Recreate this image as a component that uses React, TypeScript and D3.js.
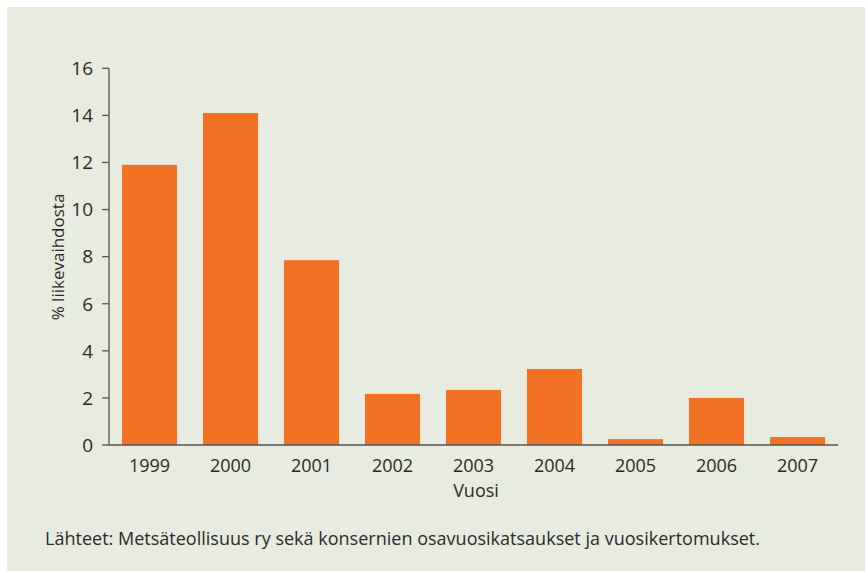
import React from "react";
import * as d3 from "d3";

const years = ["1999", "2000", "2001", "2002", "2003", "2004", "2005", "2006", "2007"];
const values = [11.9, 14.1, 7.85, 2.17, 2.34, 3.23, 0.25, 2.0, 0.34];
const yTicks = [0, 2, 4, 6, 8, 10, 12, 14, 16];
const yLabel = "% liikevaihdosta";
const xLabel = "Vuosi";
const sourceText = "Lähteet: Metsäteollisuus ry sekä konsernien osavuosikatsaukset ja vuosikertomukset.";

const W = 865;
const H = 571;
const FONT = "'Open Sans', 'Noto Sans', sans-serif";

export default function App() {
  const x = d3.scaleBand<string>().domain(years).range([109, 838]).paddingInner(0.32).paddingOuter(0.16);
  const y = d3.scaleLinear().domain([0, 16]).range([445, 68.3]);
  const textColor = "#2a2a2a";
  const axisColor = "#555555";

  return (
    <svg width={W} height={H} style={{ position: "absolute", left: 0, top: 0, background: "#ffffff" }}>
      <rect x={7} y={7} width={W - 7} height={H - 7} fill="#E8EBDF" />
      {years.map((yr, i) => (
        <rect key={yr} x={x(yr)} y={y(values[i])} width={x.bandwidth()} height={y(0) - y(values[i])} fill="#F37124" />
      ))}
      <line x1={109} x2={109} y1={y(16)} y2={y(0)} stroke={axisColor} strokeWidth={1.3} />
      <line x1={109} x2={838} y1={y(0)} y2={y(0)} stroke={axisColor} strokeWidth={1.3} />
      {yTicks.map((t) => (
        <g key={t}>
          <line x1={102} x2={109} y1={y(t)} y2={y(t)} stroke={axisColor} strokeWidth={1.3} />
          <text x={93} y={y(t)} dy="0.36em" textAnchor="end" fontFamily={FONT} fontSize={19} fill={textColor}>
            {t}
          </text>
        </g>
      ))}
      {years.map((yr) => (
        <text key={yr} x={x(yr)! + x.bandwidth() / 2} y={472} textAnchor="middle" fontFamily={FONT} fontSize={18} fill={textColor}>
          {yr}
        </text>
      ))}
      <text x={476} y={497} textAnchor="middle" fontFamily={FONT} fontSize={18} fill={textColor}>
        {xLabel}
      </text>
      <text transform="translate(64,257) rotate(-90)" textAnchor="middle" fontFamily={FONT} fontSize={17} fill={textColor}>
        {yLabel}
      </text>
      <text x={45} y={545} fontFamily={FONT} fontSize={18.5} fill={textColor} textLength={715} lengthAdjust="spacingAndGlyphs">
        {sourceText}
      </text>
    </svg>
  );
}
